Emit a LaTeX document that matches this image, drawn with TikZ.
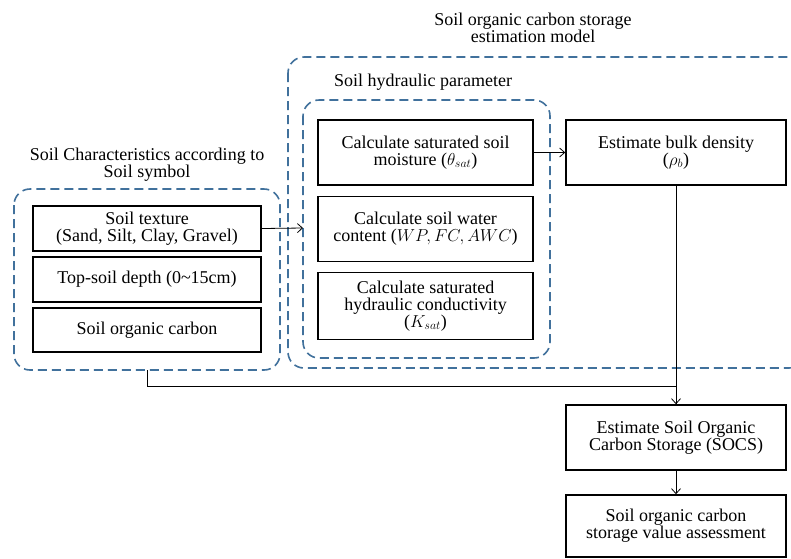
\documentclass[tikz,border=0pt]{standalone}
\usepackage{fontspec}
\setmainfont{Liberation Serif}
\newfontfamily\figfont{Liberation Serif}
\usetikzlibrary{arrows.meta}
\definecolor{dashblue}{HTML}{41719C}
\begin{document}
\begin{tikzpicture}[x=1pt,y=-1pt,
  every node/.style={font=\figfont\fontsize{18}{17}\selectfont, align=center, inner sep=0pt},
  procbox/.style={draw=black, line width=1.6pt, minimum height=#1},
  procbox/.default=65pt,
  group/.style={draw=dashblue, line width=1.6pt, dash pattern=on 9pt off 5pt, rounded corners=16pt},
  conn/.style={line width=0.8pt, -{Straight Barb[length=5pt,width=9pt]}},
  plain/.style={line width=0.8pt}]
\clip (0,0) rectangle (791,558);
\fill[white] (0,0) rectangle (791,558);

% group frames
\draw[group] (14,189) rectangle (280,370);
\draw[group] (288,57) rectangle (805,368);
\draw[group] (303,100) rectangle (550,358);
\coordinate (glbot) at (147,370);
\coordinate (hyd) at (303,228);

% group titles
\node (t1) at (147,165) {Soil Characteristics according to\\Soil symbol};
\node (t2) at (533,28) {Soil organic carbon storage\\estimation model};
\node[anchor=west] (t3) at (334,82) {Soil hydraulic parameter};

% left boxes
\node[procbox=45pt, minimum width=228pt] (tex) at (147,228.5) {Soil texture\\(Sand, Silt, Clay, Gravel)};
\node[procbox=45pt, minimum width=228pt] (top) at (147,279.5) {Top-soil depth (0\textasciitilde15cm)};
\node[procbox=44pt, minimum width=228pt] (soc) at (147,330) {Soil organic carbon};

% hydraulic boxes
\node[procbox=65pt, minimum width=215pt] (sat) at (425.5,152.5) {Calculate saturated soil\\moisture ($\theta_{sat}$)};
\node[procbox=65pt, minimum width=215pt] (swc) at (425.5,229) {Calculate soil water\\content ($WP, FC, AWC$)};
\node[procbox=67pt, minimum width=215pt] (ksat) at (425.5,306) {Calculate saturated\\hydraulic conductivity\\($K_{sat}$)};

% right boxes
\node[procbox=65pt, minimum width=220pt] (bd) at (676,152.5) {Estimate bulk density\\($\rho_b$)};
\node[procbox=65pt, minimum width=220pt] (socs) at (676,437.5) {Estimate Soil Organic\\Carbon Storage (SOCS)};
\node[procbox=62pt, minimum width=220pt] (val) at (676,526) {Soil organic carbon\\storage value assessment};

% connectors
\draw[conn] (tex.east) -- (hyd);
\draw[conn] (sat.east) -- (bd.west);
\draw[conn] (bd.south) -- (socs.north);
\draw[plain] (glbot) -- (147,386) -| (socs.north);
\draw[conn] (socs.south) -- (val.north);
\end{tikzpicture}
\end{document}
